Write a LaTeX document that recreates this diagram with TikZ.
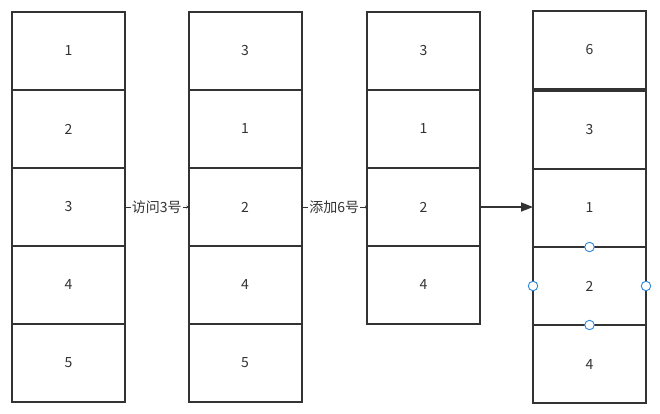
\documentclass[tikz,border=0pt]{standalone}
\usepackage{fontspec}
\setmainfont{Noto Sans CJK SC}
\usetikzlibrary{arrows.meta, positioning}
\definecolor{ink}{HTML}{333333}
\definecolor{handleblue}{HTML}{2B86D9}

\begin{document}
\begin{tikzpicture}[x=1pt, y=1pt,
  cell/.style={rectangle, draw=ink, line width=2pt, outer sep=0pt, minimum width=113pt, minimum height=78pt, inner sep=0pt, font=\fontsize{14}{16}\selectfont, text=ink},
  link/.style={draw=ink, line width=0.8pt, -{Stealth[length=2pt, width=3pt]}},
  arrow/.style={draw=ink, line width=1.6pt, -{Triangle[length=12pt, width=9pt]}},
  label/.style={fill=white, inner sep=1pt, font=\fontsize{14}{16}\selectfont, text=ink},
  handle/.style={circle, draw=handleblue, fill=white, line width=0.9pt, minimum size=9.5pt, inner sep=0pt},
]
\useasboundingbox (0,0) rectangle (660,-413);

% Column 1
\node[cell] (a1) at (68.5,-51) {1};
\node[cell, below=0pt of a1] (a2) {2};
\node[cell, below=0pt of a2] (a3) {3};
\node[cell, below=0pt of a3] (a4) {4};
\node[cell, below=0pt of a4] (a5) {5};

% Column 2
\node[cell] (b3) at (245,-51) {3};
\node[cell, below=0pt of b3] (b1) {1};
\node[cell, below=0pt of b1] (b2) {2};
\node[cell, below=0pt of b2] (b4) {4};
\node[cell, below=0pt of b4] (b5) {5};

% Column 3
\node[cell] (c3) at (423.5,-51) {3};
\node[cell, below=0pt of c3] (c1) {1};
\node[cell, below=0pt of c1] (c2) {2};
\node[cell, below=0pt of c2] (c4) {4};

% Column 4
\node[cell] (d6) at (589.5,-50) {6};
\node[cell, below=2pt of d6] (d3) {3};
\node[cell, below=0pt of d3] (d1) {1};
\node[cell, below=0pt of d1] (d2) {2};
\node[cell, below=0pt of d2] (d4) {4};

% Connectors
\draw[link] (a3) -- node[label] {访问3号} (b2);
\draw[link] (b2) -- node[label] {添加6号} (c2);
\draw[arrow] (c2.east) -- (c2.east -| d1.west);

% Selection handles
\node[handle] at (d2.north) {};
\node[handle] at (d2.south) {};
\node[handle] at (d2.west) {};
\node[handle] at (d2.east) {};
\end{tikzpicture}
\end{document}
